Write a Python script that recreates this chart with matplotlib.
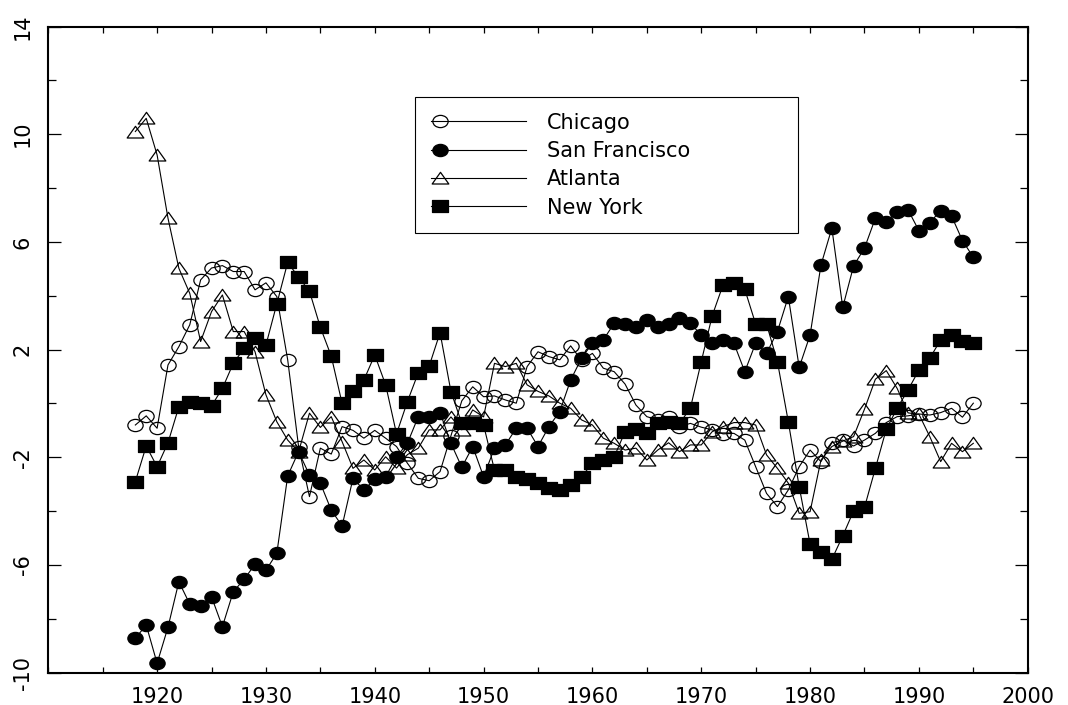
import numpy as np
import matplotlib
matplotlib.use("Agg")
import matplotlib.pyplot as plt
from matplotlib.path import Path
from matplotlib.transforms import Affine2D
from matplotlib.legend_handler import HandlerLine2DCompound

plt.rcParams['font.family'] = ['DejaVu Sans']
plt.rcParams['axes.unicode_minus'] = False

years = list(range(1918, 1996))

chicago = [-0.80, -0.46, -0.92, 1.43, 2.11, 2.92, 4.59, 5.03, 5.12, 4.90,
           4.90, 4.22, 4.48, 3.97, 1.62, -1.60, -3.46, -1.66, -1.88, -0.86,
           -1.00, -1.29, -1.00, -1.29, -1.60, -2.22, -2.78, -2.87, -2.53, -1.20,
           0.10, 0.62, 0.25, 0.28, 0.13, 0.01, 1.37, 1.92, 1.74, 1.62,
           2.14, 1.60, 1.86, 1.31, 1.18, 0.72, -0.06, -0.49, -0.61, -0.49,
           -0.86, -0.74, -0.88, -0.98, -1.13, -1.11, -1.36, -2.35, -3.34, -3.83,
           -3.21, -2.35, -1.73, -2.16, -1.46, -1.36, -1.58, -1.36, -1.11, -0.71,
           -0.49, -0.46, -0.39, -0.43, -0.34, -0.18, -0.51, 0.01]

san_francisco = [-8.72, -8.23, -9.65, -8.31, -6.62, -7.45, -7.52, -7.18, -8.29, -6.99,
                 -6.53, -5.97, -6.19, -5.57, -2.69, -1.79, -2.66, -2.96, -3.96, -4.55,
                 -2.78, -3.21, -2.82, -2.72, -1.98, -1.48, -0.49, -0.49, -0.34, -1.48,
                 -2.37, -1.60, -2.72, -1.66, -1.54, -0.92, -0.92, -1.60, -0.86, -0.30,
                 0.87, 1.68, 2.24, 2.36, 2.98, 2.95, 2.85, 3.10, 2.83, 2.95,
                 3.16, 2.98, 2.54, 2.24, 2.36, 2.24, 1.18, 2.24, 1.86, 2.67,
                 3.97, 1.34, 2.54, 5.14, 6.51, 3.57, 5.11, 5.77, 6.88, 6.75,
                 7.12, 7.19, 6.42, 6.72, 7.16, 6.96, 6.05, 5.43]

atlanta = [10.10, 10.59, 9.23, 6.88, 5.02, 4.09, 2.30, 3.41, 4.03, 2.67,
           2.67, 1.92, 0.32, -0.68, -1.36, -1.80, -0.36, -0.89, -0.49, -1.42,
           -2.41, -2.10, -2.47, -1.98, -2.40, -1.90, -1.66, -0.98, -0.98, -0.50,
           -0.98, -0.24, -0.50, 1.49, 1.37, 1.49, 0.69, 0.45, 0.28, 0.01,
           -0.18, -0.61, -0.80, -1.29, -1.48, -1.73, -1.66, -2.10, -1.73, -1.46,
           -1.79, -1.54, -1.54, -1.05, -0.86, -0.71, -0.71, -0.80, -1.91, -2.41,
           -2.96, -4.08, -4.02, -2.10, -1.60, -1.40, -1.23, -0.21, 0.90, 1.22,
           0.56, -0.35, -0.40, -1.23, -2.16, -1.48, -1.79, -1.48]

new_york = [-2.90, -1.58, -2.35, -1.46, -0.12, 0.07, 0.00, -0.09, 0.56, 1.49,
            2.05, 2.42, 2.17, 3.70, 5.24, 4.69, 4.17, 2.83, 1.76, 0.00,
            0.46, 0.87, 1.80, 0.69, -1.13, 0.07, 1.14, 1.39, 2.63, 0.44,
            -0.74, -0.74, -0.80, -2.47, -2.47, -2.72, -2.82, -2.96, -3.15, -3.21,
            -3.03, -2.72, -2.22, -2.10, -1.98, -1.05, -0.96, -1.11, -0.71, -0.68,
            -0.74, -0.18, 1.55, 3.25, 4.40, 4.46, 4.24, 2.95, 2.95, 1.55,
            -0.68, -3.09, -5.22, -5.51, -5.79, -4.92, -3.99, -3.86, -2.41, -0.96,
            -0.18, 0.50, 1.24, 1.68, 2.36, 2.54, 2.33, 2.26]

# slightly wide marker shapes, like the scanned original
ellipse = Path.unit_circle().transformed(Affine2D().scale(1.25, 1.0))
rect = Path([(-0.625, -0.5), (0.625, -0.5), (0.625, 0.5), (-0.625, 0.5), (-0.625, -0.5)],
            [Path.MOVETO, Path.LINETO, Path.LINETO, Path.LINETO, Path.CLOSEPOLY])
tri = Path([(-0.5, -0.33), (0.5, -0.33), (0.0, 0.37), (-0.5, -0.33)],
           [Path.MOVETO, Path.LINETO, Path.LINETO, Path.CLOSEPOLY])


# legend marker sits near the left end of the sample line
class LeftMarker(HandlerLine2DCompound):
    def get_xdata(self, legend, xdescent, ydescent, width, height, fontsize):
        xdata = np.array([-xdescent, -xdescent + width])
        return xdata, np.array([-xdescent + 0.1 * width])


fig = plt.figure(figsize=(10.68, 7.05), dpi=100)
ax = fig.add_axes([0.0452, 0.0458, 0.9171, 0.9166])

lw = 0.8
ax.plot(years, chicago, color='black', lw=lw, marker=ellipse, ms=11,
        mfc='none', mec='black', mew=0.9, label='Chicago')
ax.plot(years, san_francisco, color='black', lw=lw, marker=ellipse, ms=11,
        mfc='black', mec='black', mew=0.9, label='San Francisco')
ax.plot(years, atlanta, color='black', lw=lw, marker=tri, ms=12,
        mfc='none', mec='black', mew=0.9, label='Atlanta')
ax.plot(years, new_york, color='black', lw=lw, marker=rect, ms=11,
        mfc='black', mec='black', mew=0.9, label='New York')

ax.set_xlim(1910, 2000)
ax.set_ylim(-10, 14)
ax.set_xticks(range(1920, 2001, 10))
ax.set_xticks(range(1910, 2001, 5), minor=True)
ax.set_yticks(range(-10, 15, 4))
ax.set_yticks(range(-10, 15, 2), minor=True)

ax.tick_params(axis='x', which='both', direction='in', top=True, length=4.3,
               width=0.9, labelsize=15, pad=10)
ax.tick_params(axis='y', which='major', direction='in', right=True, length=9.4,
               width=0.9, labelsize=15, pad=11)
ax.tick_params(axis='y', which='minor', direction='in', right=True, length=5.8,
               width=0.9)
plt.setp(ax.get_yticklabels(), rotation=90, va='center')

for s in ax.spines.values():
    s.set_linewidth(1.5)

leg = ax.legend(loc='upper left', bbox_to_anchor=(0.3744, 0.6873, 0.391, 0.2037),
                mode='expand', borderaxespad=0, fontsize=15, handlelength=4.6,
                handletextpad=1.0, labelspacing=0.4, borderpad=0.75,
                fancybox=False, framealpha=1, edgecolor='black',
                handler_map={plt.Line2D: LeftMarker()})
leg.get_frame().set_linewidth(0.8)

fig.savefig('out.png', dpi=100)
